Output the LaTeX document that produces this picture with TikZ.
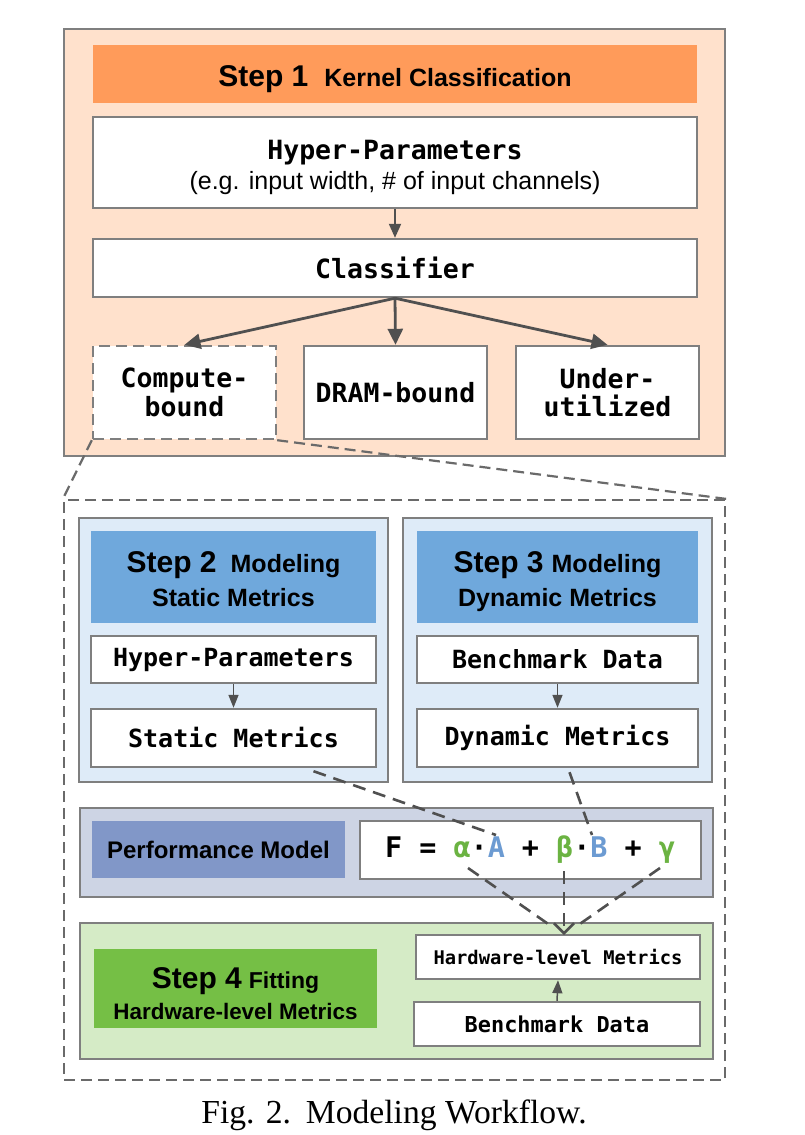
\documentclass[tikz,border=0pt]{standalone}
\usepackage{fontspec}
\setmainfont{Liberation Sans}
\setmonofont{DejaVu Sans Mono}
\newfontfamily\capfont{Liberation Serif}
\usetikzlibrary{arrows.meta,calc}
\definecolor{bordergray}{HTML}{7F7F7F}
\definecolor{arrowc}{HTML}{505050}
\definecolor{dashc}{HTML}{6A6A6A}
\definecolor{orangebg}{HTML}{FFE1CC}
\definecolor{orangehd}{HTML}{FF9B5A}
\definecolor{bluebg}{HTML}{DEEBF8}
\definecolor{bluehd}{HTML}{6FA8DC}
\definecolor{perfbg}{HTML}{CDD4E4}
\definecolor{perfhd}{HTML}{8197C8}
\definecolor{greenbg}{HTML}{D5EBC6}
\definecolor{greenhd}{HTML}{75BF45}
\definecolor{grk}{HTML}{6BB342}
\definecolor{ltr}{HTML}{6C9BD2}
\newcommand\bx[7]{\node[#6,minimum width={(#4-#2)*1pt},minimum height={(#5-#3)*1pt}] (#1) at ({(#2+#4)/2},{(#3+#5)/2}) {#7};}
\newcommand\fsz[2]{\fontsize{#1}{#2}\selectfont}
\begin{document}
\begin{tikzpicture}[x=1pt,y=-1pt,
  cont/.style={draw=bordergray,line width=2.2pt,inner sep=0pt},
  hdr/.style={draw=none,inner sep=0pt,align=center},
  txt/.style={inner sep=0pt,align=center},
  wbox/.style={draw=bordergray,fill=white,line width=2.4pt,inner sep=0pt,align=center},
  dbox/.style={draw=bordergray,fill=white,line width=2.4pt,inner sep=0pt,align=center,dash pattern=on 11pt off 6pt},
  zbox/.style={draw=dashc,line width=2.2pt,inner sep=0pt,dash pattern=on 11pt off 6pt},
  zline/.style={draw=dashc,line width=2.2pt,dash pattern=on 11pt off 6pt},
  cline/.style={draw=arrowc,line width=2.6pt,dash pattern=on 13pt off 8pt},
  arr/.style={draw=arrowc,line width=2.8pt,-{Triangle[length=16pt,width=15pt]}},
  marr/.style={draw=arrowc,line width=2pt,-{Triangle[length=14pt,width=12pt]}},
  sarr/.style={draw=arrowc,line width=1.5pt,-{Triangle[length=13pt,width=10pt]}},
  monob/.style={font=\ttfamily\bfseries\fsz{#1}{30}},
]
\useasboundingbox (0,0) rectangle (804,1135);
\fill[white] (0,0) rectangle (804,1135);
% ---------- Step 1 ----------
\bx{s1}{64}{29}{725}{456}{cont,fill=orangebg}{}
\bx{s1h}{93}{45}{697}{103}{hdr,fill=orangehd}{}
\node[txt,font=\bfseries] (s1t) at ($(s1h)+(0,5)$) {{\fsz{30}{36}Step 1}\hspace{16pt}{\fsz{25}{30}Kernel Classification}};
\bx{hp}{93}{117}{697}{208}{wbox}{}
\node[txt,font=\fsz{25}{30}] (hpt) at ($(hp)+(0,4.5)$) {{\ttfamily\bfseries\fsz{26.5}{30}Hyper-Parameters}\\(e.g. input width, \# of input channels)};
\bx{cls}{93}{239}{697}{297}{wbox,monob=26.5}{Classifier}
\bx{cb}{93}{346}{276}{439}{dbox,font=\ttfamily\bfseries\fsz{26.5}{28.5}}{Compute-\\bound}
\bx{db}{304}{346}{487}{439}{wbox,monob=26.5}{DRAM-bound}
\bx{ub}{516}{346}{699}{439}{wbox,font=\ttfamily\bfseries\fsz{26.5}{28.5}}{Under-\\utilized}
\draw[marr] (hp.south) -- (cls.north);
\draw[arr] (cls.south) -- (cb.north);
\draw[arr] (cls.south) -- (db.north);
\draw[arr] (cls.south) -- (ub.north);
% ---------- zoom region ----------
\bx{zoom}{64}{500}{725}{1080}{zbox}{}
\draw[zline] (cb.south west) -- (zoom.north west);
\draw[zline] (cb.south east) -- (zoom.north east);
% ---------- Step 2 ----------
\bx{s2}{79}{518}{388}{782}{cont,fill=bluebg}{}
\bx{s2h}{91}{531}{376}{623}{hdr,fill=bluehd}{}
\node[txt,font=\bfseries\fsz{25}{34}] (s2t) at ($(s2h)+(0,2)$) {{\fsz{30}{34}Step 2}\hspace{14pt}Modeling\\Static Metrics};
\bx{hp2}{91}{636}{376}{683}{wbox,monob=25}{Hyper-Parameters}
\bx{sm}{91}{709}{376}{767}{wbox,monob=25}{Static Metrics}
\draw[sarr] (hp2.south) -- (sm.north);
% ---------- Step 3 ----------
\bx{s3}{403}{518}{712}{782}{cont,fill=bluebg}{}
\bx{s3h}{417}{531}{698}{623}{hdr,fill=bluehd}{}
\node[txt,font=\bfseries\fsz{25}{34}] (s3t) at ($(s3h)+(0,4.5)$) {{\fsz{30}{34}Step 3}\hspace{8pt}Modeling\\Dynamic Metrics};
\bx{bd}{417}{636}{698}{683}{wbox,monob=25}{Benchmark Data}
\bx{dm}{417}{709}{698}{767}{wbox,monob=25}{Dynamic Metrics}
\draw[sarr] (bd.south) -- (dm.north);
% ---------- Performance model ----------
\bx{pm}{80}{808}{713}{897}{cont,fill=perfbg}{}
\bx{pml}{92}{821}{345}{878}{hdr,fill=perfhd}{\bfseries\fsz{24}{28}Performance Model}
\bx{fm}{360}{821}{701}{879}{wbox,monob=28.4}{F = \textcolor{grk}{α}·\textcolor{ltr}{A} + \textcolor{grk}{β}·\textcolor{ltr}{B} + \textcolor{grk}{γ}}
% ---------- Step 4 ----------
\bx{s4}{80}{923}{713}{1059}{cont,fill=greenbg}{}
\bx{s4h}{94}{949}{377}{1028}{hdr,fill=greenhd}{}
\node[txt,font=\bfseries\fsz{22.4}{31}] (s4t) at ($(s4h)+(0,5)$) {{\fsz{30}{31}Step 4}\hspace{7pt}{\fsz{23}{31}Fitting}\\Hardware-level Metrics};
\bx{hw}{416}{935}{700}{979}{wbox,monob=18.8}{Hardware-level Metrics}
\bx{bd4}{414}{1002}{700}{1046}{wbox,monob=21.9}{Benchmark Data}
\draw[sarr] (bd4.north) -- (hw.south);
% ---------- dashed connectors ----------
\coordinate (Atop) at (496,835);
\coordinate (Btop) at (592,835);
\coordinate (alb) at (468,868);
\coordinate (beb) at (564,871);
\coordinate (gab) at (660,868);
\coordinate (hwtip) at (564,935);
\draw[cline] ([xshift=80pt,yshift=-3pt]sm.south) -- (Atop);
\draw[cline] ([xshift=12pt,yshift=-4pt]dm.south) -- (Btop);
\draw[cline,shorten >=14pt] (alb) -- (hwtip);
\draw[cline,shorten >=14pt] (gab) -- (hwtip);
\draw[cline,-{Straight Barb[length=10pt,width=20pt,line width=2.6pt]}] (beb) -- (hwtip);
% ---------- caption ----------
\node[font=\capfont\fsz{33.6}{40},inner sep=0pt] (cap) at (394,1115) {Fig. 2.\hspace{15pt}Modeling Workflow.};
\end{tikzpicture}
\end{document}
